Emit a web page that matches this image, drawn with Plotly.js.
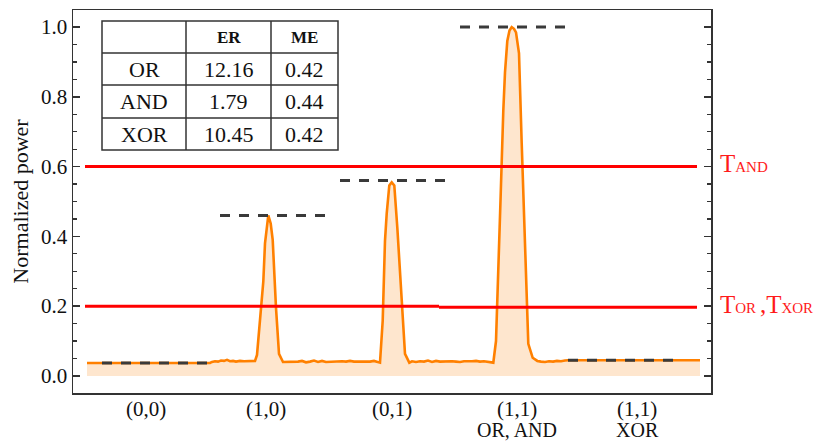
<!DOCTYPE html>
<html><head><meta charset="utf-8">
<script src="https://cdn.plot.ly/plotly-3.0.1.min.js"></script>
<style>html,body{margin:0;padding:0;background:#fff}</style>
</head><body>
<div id="chart" style="width:813px;height:443px"></div>
<script>
// ---- data ----
const timeVals = [0,40,80,123,125,128,131,134,137,140,143,146,149,153,157,161,165,168,
  170,173,176.3,178,179.7,181.3,183.7,185.7,189,192,196,
  199,203,207,211,215,219,223,227,231,235,239,243,247,251,255,259,263,267,271,275,279,283,287,291,
  293,295.7,298,299.7,302.3,304.7,307.3,310.3,314.7,318,322.3,
  325,329,333,337,341,345,349,353,357,361,365,369,373,377,381,385,389,393,397,401,405,
  406.3,409,411.3,413.7,416.3,418,420.3,422.5,424.7,427,429,432,434.7,438,441.3,445.7,450.3,
  454,458,462,466,470,474,478,481,500,520,540,560,580,595,613];
const powerVals = [0.037,0.037,0.037,0.037,0.040,0.042,0.041,0.044,0.043,0.046,0.042,0.043,0.041,0.043,0.042,0.042,0.041,0.043,
  0.060,0.150,0.270,0.380,0.420,0.460,0.437,0.390,0.195,0.063,0.040,
  0.040,0.042,0.041,0.041,0.043,0.039,0.041,0.044,0.040,0.043,0.040,0.041,0.040,0.041,0.042,0.041,0.043,0.041,0.041,0.040,0.042,0.041,0.043,0.040,
  0.038,0.158,0.388,0.465,0.546,0.555,0.546,0.426,0.225,0.063,0.038,
  0.042,0.040,0.042,0.041,0.044,0.040,0.043,0.041,0.042,0.041,0.042,0.041,0.040,0.042,0.041,0.042,0.043,0.041,0.042,0.041,0.038,
  0.038,0.100,0.280,0.520,0.760,0.870,0.960,0.990,1.000,0.995,0.985,0.925,0.667,0.380,0.092,0.052,0.043,
  0.041,0.040,0.042,0.041,0.043,0.042,0.044,0.045,0.045,0.046,0.045,0.045,0.045,0.044,0.045];

const inputLabels = ['(0,0)','(1,0)','(0,1)','(1,1)','(1,1)'];
const gateLabels  = ['','','','OR, AND','XOR'];
const inputPos = [59,179,305,430,550];

const refX0 = [15,133,253,373,481];
const refX1 = [121,241,358,478,586];
const refY  = [0.037,0.46,0.56,1.0,0.045];

const thrX0 = [-2,-2,352];
const thrX1 = [610,352,610];
const thrY  = [0.6,0.2,0.197];

const yTickVals = [0,0.2,0.4,0.6,0.8,1.0];

const gateNames = ['OR','AND','XOR'];
const erVals = [12.16,1.79,10.45];
const meVals = [0.42,0.44,0.42];
const tableHeader = ['','ER','ME'];

// ---- layout helpers ----
const W=813,H=443,ML=73,MR=102,MT=10,MB=50;
const PW=W-ML-MR, PH=H-MT-MB;
const px=(x)=>(x-ML)/PW, py=(y)=>(H-MB-y)/PH;
const serif='Liberation Serif';

const traces=[];
traces.push({x:timeVals,y:powerVals,type:'scatter',mode:'lines',fill:'tozeroy',
  fillcolor:'rgba(253,222,190,0.75)',line:{color:'#ff8000',width:2.6},hoverinfo:'skip'});
for(let i=0;i<thrY.length;i++){
  traces.push({x:[thrX0[i],thrX1[i]],y:[thrY[i],thrY[i]],type:'scatter',mode:'lines',
    line:{color:'#ff0000',width:3},hoverinfo:'skip'});
}
for(let i=0;i<refY.length;i++){
  traces.push({x:[refX0[i],refX1[i]],y:[refY[i],refY[i]],type:'scatter',mode:'lines',
    line:{color:'#3a3a3a',width:3,dash:'10px,9px'},hoverinfo:'skip'});
}

// table
const colX=[102,186,271,338], rowY=[21,53,85,118,150];
const shapes=[];
shapes.push({type:'rect',xref:'paper',yref:'paper',x0:px(colX[0]),x1:px(colX[3]),y0:py(rowY[4]),y1:py(rowY[0]),
  fillcolor:'#fff',line:{color:'#333',width:1.5}});
colX.slice(1,3).forEach(x=>shapes.push({type:'line',xref:'paper',yref:'paper',x0:px(x),x1:px(x),y0:py(rowY[4]),y1:py(rowY[0]),line:{color:'#333',width:1.5}}));
rowY.slice(1,4).forEach(y=>shapes.push({type:'line',xref:'paper',yref:'paper',x0:px(colX[0]),x1:px(colX[3]),y0:py(y),y1:py(y),line:{color:'#333',width:1.5}}));

const ann=[];
const cx=i=>(colX[i]+colX[i+1])/2, cy=j=>(rowY[j]+rowY[j+1])/2;
tableHeader.forEach((h,i)=>{ if(h) ann.push({xref:'paper',yref:'paper',x:px(cx(i)),y:py(cy(0)),xanchor:'center',yanchor:'middle',
  text:'<b>'+h+'</b>',showarrow:false,font:{family:serif,size:17,color:'#111'}}); });
gateNames.forEach((g,j)=>{
  const vals=[g,erVals[j].toFixed(2),meVals[j].toFixed(2)];
  vals.forEach((v,i)=>ann.push({xref:'paper',yref:'paper',x:px(cx(i)),y:py(cy(j+1)),xanchor:'center',yanchor:'middle',
    text:v,showarrow:false,font:{family:serif,size:22,color:'#111'}}));
});
// x labels (two lines)
inputLabels.forEach((t,i)=>ann.push({xref:'x',yref:'paper',x:inputPos[i],y:py(409),xanchor:'center',yanchor:'middle',
  text:t,showarrow:false,font:{family:serif,size:21,color:'#111'}}));
gateLabels.forEach((g,i)=>{ if(g) ann.push({xref:'x',yref:'paper',x:inputPos[i],y:py(430),xanchor:'center',yanchor:'middle',
  text:g,showarrow:false,font:{family:serif,size:20,color:'#111'}}); });
// threshold labels
ann.push({xref:'paper',yref:'y',x:px(718),y:thrY[0],xanchor:'left',yanchor:'middle',showarrow:false,yshift:3,
  text:'T<span style="font-size:15px">AND</span>',font:{family:serif,size:25,color:'#ff1a1a'}});
ann.push({xref:'paper',yref:'y',x:px(718),y:thrY[1],xanchor:'left',yanchor:'middle',showarrow:false,yshift:2,
  text:'T<span style="font-size:15px">OR </span>,T<span style="font-size:15px">XOR</span>',font:{family:serif,size:25,color:'#ff1a1a'}});

const layout={
  width:W,height:H,margin:{l:ML,r:MR,t:MT,b:MB},paper_bgcolor:'#fff',plot_bgcolor:'#fff',showlegend:false,
  font:{family:serif},
  xaxis:{range:[-14,624],tickvals:inputPos,showticklabels:false,ticks:'',showgrid:false,zeroline:false,
    showline:true,linecolor:'#333',linewidth:1.5,mirror:true},
  yaxis:{range:[-0.049,1.049],tickvals:yTickVals,ticktext:yTickVals.map(v=>v.toFixed(1)),ticks:'inside',ticklen:7,tickwidth:1.5,tickcolor:'#333',
    minor:{dtick:0.05,ticks:'inside',ticklen:4,tickwidth:1.2,tickcolor:'#333',tick0:0},
    showgrid:false,zeroline:false,showline:true,linecolor:'#333',linewidth:1.5,mirror:'allticks',
    tickfont:{family:serif,size:21,color:'#111'},
    title:{text:'Normalized power',font:{family:serif,size:22,color:'#111'},standoff:6}},
  shapes:shapes,annotations:ann
};
Plotly.newPlot('chart',traces,layout,{displayModeBar:false,staticPlot:true});
</script>
</body></html>
